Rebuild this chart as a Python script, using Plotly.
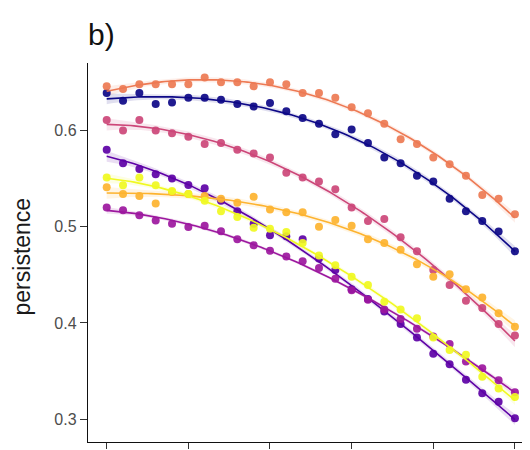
import numpy as np
import plotly.graph_objects as go

# ---- data ----
x_steps = list(range(26))
x_ticks = [0, 5, 10, 15, 20, 25]
y_ticks = [0.3, 0.4, 0.5, 0.6]
y_tick_labels = ["0.3", "0.4", "0.5", "0.6"]

salmon = [0.646, 0.643, 0.648, 0.648, 0.648, 0.648, 0.655, 0.650, 0.650, 0.646, 0.650, 0.648, 0.639,
          0.639, 0.634, 0.624, 0.618, 0.607, 0.591, 0.586, 0.572, 0.565, 0.553, 0.533, 0.529, 0.513]
navy = [0.639, 0.631, 0.639, 0.6275, 0.629, 0.634, 0.634, 0.632, 0.6275, 0.625, 0.6285, 0.620, 0.613,
        0.607, 0.596, 0.601, 0.587, 0.572, 0.566, 0.553, 0.547, 0.529, 0.516, 0.506, 0.495, 0.4745]
pink = [0.611, 0.600, 0.611, 0.600, 0.597, 0.5935, 0.586, 0.587, 0.580, 0.576, 0.572, 0.556, 0.551,
        0.547, 0.539, 0.520, 0.506, 0.508, 0.489, 0.4745, 0.455, 0.4395, 0.423, 0.4155, 0.399, 0.387]
orange = [0.541, 0.534, 0.532, 0.524, 0.536, 0.534, 0.532, 0.529, 0.525, 0.531, 0.518, 0.515, 0.515,
          0.500, 0.507, 0.501, 0.487, 0.483, 0.476, 0.461, 0.448, 0.4505, 0.435, 0.4265, 0.410, 0.396]
yellow = [0.551, 0.543, 0.551, 0.543, 0.537, 0.534, 0.527, 0.516, 0.510, 0.499, 0.498, 0.4945, 0.483,
          0.470, 0.460, 0.448, 0.4395, 0.422, 0.414, 0.405, 0.385, 0.372, 0.367, 0.344, 0.332, 0.323]
violet = [0.580, 0.566, 0.560, 0.5546, 0.550, 0.5433, 0.540, 0.527, 0.516, 0.503, 0.491, 0.490, 0.487,
          0.467, 0.455, 0.435, 0.425, 0.412, 0.399, 0.385, 0.368, 0.357, 0.341, 0.327, 0.318, 0.301]
purple = [0.520, 0.517, 0.512, 0.5065, 0.503, 0.4997, 0.501, 0.4952, 0.487, 0.4807, 0.475, 0.469, 0.464,
          0.457, 0.446, 0.434, 0.424, 0.414, 0.404, 0.394, 0.386, 0.378, 0.360, 0.353, 0.3405, 0.328]

series = [
    (navy, "#0D0887"),
    (violet, "#5D01A6"),
    (purple, "#9C179E"),
    (pink, "#CC4678"),
    (salmon, "#ED7953"),
    (orange, "#FDB32F"),
    (yellow, "#F0F921"),
]


def rgba(hex_color, a):
    h = hex_color.lstrip("#")
    r, g, b = int(h[0:2], 16), int(h[2:4], 16), int(h[4:6], 16)
    return f"rgba({r},{g},{b},{a})"


fig = go.Figure()
xs = np.array(x_steps, dtype=float)
xf = np.linspace(xs.min(), xs.max(), 120)

for vals, col in series:
    ys = np.array(vals)
    coef, cov = np.polyfit(xs, ys, 3, cov=True)
    yf = np.polyval(coef, xf)
    V = np.vander(xf, 4)
    se = np.sqrt(np.einsum("ij,jk,ik->i", V, cov, V))
    fig.add_trace(go.Scatter(x=np.concatenate([xf, xf[::-1]]),
                             y=np.concatenate([yf + 1.96 * se, (yf - 1.96 * se)[::-1]]),
                             fill="toself", fillcolor=rgba(col, 0.13), line=dict(width=0),
                             hoverinfo="skip", mode="lines"))

for vals, col in series:
    ys = np.array(vals)
    coef = np.polyfit(xs, ys, 3)
    yf = np.polyval(coef, xf)
    fig.add_trace(go.Scatter(x=x_steps, y=vals, mode="markers",
                             marker=dict(size=8, color=col, opacity=0.92, line=dict(width=0))))
    fig.add_trace(go.Scatter(x=xf, y=yf, mode="lines", line=dict(color=col, width=1.6)))

# the page body has an 8px default margin, so the figure is 8px smaller
fig.update_layout(
    width=522, height=442,
    margin=dict(l=80, r=2, t=55, b=5),
    paper_bgcolor="white", plot_bgcolor="white",
    showlegend=False,
    font=dict(family="Liberation Sans, Arial, sans-serif"),
)
fig.update_xaxes(range=[-1.145, 25.8], showgrid=False, zeroline=False,
                 showline=True, linecolor="#111111", linewidth=1.4,
                 tickmode="array", tickvals=x_ticks, ticks="outside", ticklen=6,
                 tickcolor="#333333", tickwidth=1.2, showticklabels=False)
fig.update_yaxes(range=[0.2763, 0.6701], showgrid=False, zeroline=False,
                 showline=True, linecolor="#111111", linewidth=1.4,
                 tickmode="array", tickvals=y_ticks, ticktext=y_tick_labels,
                 ticks="outside", ticklen=7, tickcolor="#333333", tickwidth=1.2,
                 tickfont=dict(size=16, color="#4D4D4D"))

fig.add_annotation(text="persistence", xref="paper", yref="paper",
                   x=(22 - 88) / 440, y=(445 - 258) / 382, textangle=-90,
                   showarrow=False, xanchor="center", yanchor="middle",
                   font=dict(size=23, color="#1A1A1A"))
fig.add_annotation(text="b)", xref="paper", yref="paper",
                   x=0, y=(445 - 34) / 382, showarrow=False,
                   xanchor="left", yanchor="middle", xshift=-2,
                   font=dict(size=30, color="#111111"))

fig.write_html("out.html")
